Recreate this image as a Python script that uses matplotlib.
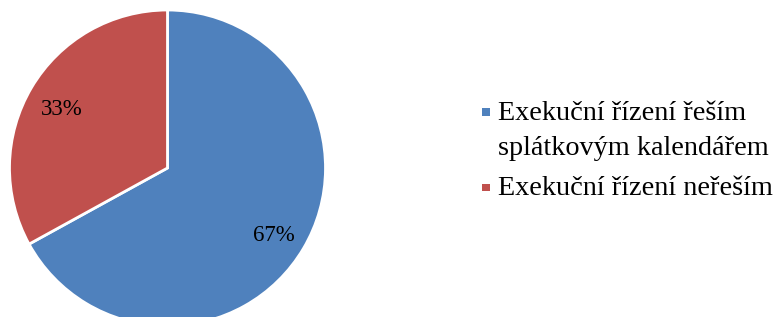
import matplotlib.pyplot as plt
from matplotlib.patches import Rectangle

labels = ['Exekuční řízení řeším\nsplátkovým kalendářem', 'Exekuční řízení neřeším']
values = [67, 33]
colors = ['#4F81BD', '#C0504D']

plt.rcParams['font.family'] = ['Liberation Serif', 'DejaVu Serif']

W, H = 776, 317
fig = plt.figure(figsize=(W / 100, H / 100), dpi=100)
ax = fig.add_axes([9.5 / W, -9 / H, 316 / W, 316 / H])

wedges, texts, autotexts = ax.pie(
    values, colors=colors, startangle=90, counterclock=False,
    autopct='%d%%', pctdistance=0.78,
    wedgeprops=dict(edgecolor='white', linewidth=2),
    textprops=dict(fontsize=16.5, color='black'))
for t in autotexts:
    x, y = t.get_position()
    t.set_position((x, y - 0.028))
ax.set_xlim(-1, 1)
ax.set_ylim(-1, 1)
ax.set_aspect('equal')
ax.axis('off')

# legend drawn by hand so the marker sits on the first line of each entry
baseline = 120
for lab, c in zip(labels, colors):
    fig.add_artist(Rectangle((482 / W, 1 - (baseline - 4) / H), 7.5 / W, 7.5 / H,
                             transform=fig.transFigure, facecolor=c, edgecolor='none'))
    for line in lab.split('\n'):
        fig.text(498 / W, 1 - baseline / H, line, fontsize=20.3, va='baseline', ha='left')
        baseline += 35
    baseline += 5

fig.savefig('out.png', dpi=100)
